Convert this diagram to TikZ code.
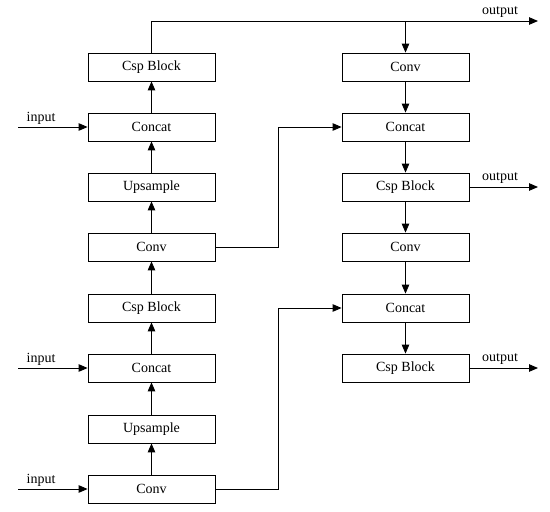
\documentclass[tikz,border=0pt]{standalone}
\usepackage{fontspec}
\setmainfont{Liberation Serif}
\usetikzlibrary{arrows.meta}
\begin{document}
\begin{tikzpicture}[x=1pt,y=-1pt,
  blk/.style={draw, line width=0.8pt, minimum width=127pt, minimum height=28pt, inner sep=0pt, font=\fontsize{14}{16}\selectfont},
  arr/.style={line width=0.9pt, -{Triangle[length=9pt,width=7.5pt]}},
  lbl/.style={font=\fontsize{14}{16}\selectfont, inner sep=0pt}]
\useasboundingbox (0,0) rectangle (550,512);
% left column
\node[blk] (L1) at (151.5,67) {Csp Block};
\node[blk] (L2) at (151.5,127) {Concat};
\node[blk] (L3) at (151.5,187) {Upsample};
\node[blk] (L4) at (151.5,247) {Conv};
\node[blk] (L5) at (151.5,308) {Csp Block};
\node[blk] (L6) at (151.5,368) {Concat};
\node[blk] (L7) at (151.5,429) {Upsample};
\node[blk] (L8) at (151.5,489) {Conv};
% right column
\node[blk] (R1) at (405.5,67) {Conv};
\node[blk] (R2) at (405.5,127) {Concat};
\node[blk] (R3) at (405.5,187) {Csp Block};
\node[blk] (R4) at (405.5,247) {Conv};
\node[blk] (R5) at (405.5,308) {Concat};
\node[blk] (R6) at (405.5,368) {Csp Block};
% coordinates
\coordinate (t1) at (151.5,21);
\coordinate (t2) at (405.5,21);
\coordinate (o1) at (538,21);
\coordinate (o2) at (538,187);
\coordinate (o3) at (538,368);
\coordinate (i1) at (18,127);
\coordinate (i2) at (18,368);
\coordinate (i3) at (18,489);
\coordinate (j1) at (278,127);
\coordinate (j2) at (278,308);
% up arrows
\draw[arr] (L8) -- (L7);
\draw[arr] (L7) -- (L6);
\draw[arr] (L6) -- (L5);
\draw[arr] (L5) -- (L4);
\draw[arr] (L4) -- (L3);
\draw[arr] (L3) -- (L2);
\draw[arr] (L2) -- (L1);
% down arrows
\draw[arr] (R1) -- (R2);
\draw[arr] (R2) -- (R3);
\draw[arr] (R3) -- (R4);
\draw[arr] (R4) -- (R5);
\draw[arr] (R5) -- (R6);
% top
\draw[arr] (L1.north) -- (t1) -- (o1);
\draw[arr] (t2) -- (R1.north);
% cross links
\draw[arr] (L4.east) -| (j1) -- (R2.west);
\draw[arr] (L8.east) -| (j2) -- (R5.west);
% inputs
\draw[arr] (i1) -- (L2.west);
\draw[arr] (i2) -- (L6.west);
\draw[arr] (i3) -- (L8.west);
% outputs
\draw[arr] (R3.east) -- (o2);
\draw[arr] (R6.east) -- (o3);
% labels
\node[lbl] (li1) at (41,118) {input};
\node[lbl] (li2) at (41,359) {input};
\node[lbl] (li3) at (41,480) {input};
\node[lbl] (lo1) at (500,12) {output};
\node[lbl] (lo2) at (500,178) {output};
\node[lbl] (lo3) at (500,359) {output};
\end{tikzpicture}
\end{document}
